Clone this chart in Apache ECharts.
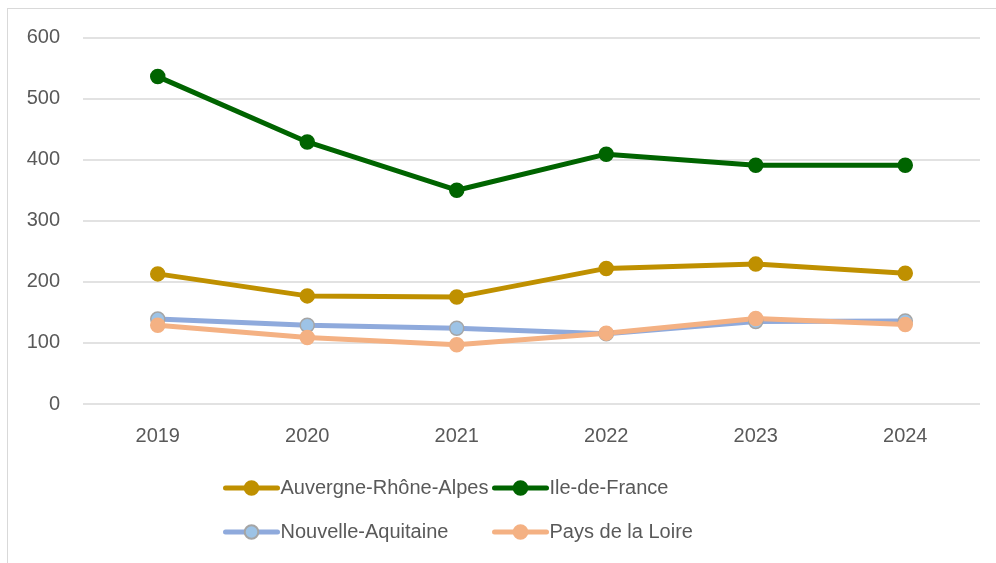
<!DOCTYPE html>
<html>
<head>
    <meta charset="utf-8">
    <title>Regions 2019-2024</title>
    <script type="text/javascript" src="https://cdn.jsdelivr.net/npm/echarts@6/dist/echarts.min.js"></script>
    <style>
        html, body { margin:0; padding:0; background:#fff; }
        #frame { position:absolute; left:7px; top:8px; width:1000px; height:600px; border:1px solid #d9d9d9; box-sizing:border-box; }
        #main { position:absolute; left:0; top:0; width:996px; height:563px; }
    </style>
</head>
<body>
    <div id="frame"></div>
    <div id="main"></div>
    <script type="text/javascript">
        var years = ['2019', '2020', '2021', '2022', '2023', '2024'];
        var auvergne = [213, 177, 175, 222, 229, 214];
        var ileDeFrance = [536, 429, 350, 409, 391, 391];
        var nouvelleAquitaine = [139, 129, 124, 115, 135, 136];
        var paysDeLaLoire = [129, 109, 97, 116, 140, 130];

        var font = 'Liberation Sans';
        var textColor = '#595959';

        var myChart = echarts.init(document.getElementById('main'));

        function serie(name, data, color, markerFill, markerBorder) {
            return {
                name: name,
                type: 'line',
                data: data,
                symbol: 'circle',
                symbolSize: 14,
                lineStyle: { color: color, width: 5 },
                itemStyle: { color: markerFill, borderColor: markerBorder, borderWidth: 1.5 },
                emphasis: { disabled: true }
            };
        }

        function legendAt(name, left, top) {
            return {
                data: [name],
                left: left,
                top: top,
                itemWidth: 52,
                itemHeight: 17,
                itemGap: 0,
                padding: 0,
                lineStyle: { width: 5, cap: 'round' },
                textStyle: { color: textColor, fontFamily: font, fontSize: 20, padding: [0, 0, 0, -2] }
            };
        }

        var option = {
            animation: false,
            grid: { left: 83, right: 16, top: 37.5, bottom: 159 },
            legend: [
                legendAt('Auvergne-Rhône-Alpes', 223, 478),
                legendAt('Ile-de-France', 492, 478),
                legendAt('Nouvelle-Aquitaine', 223, 522),
                legendAt('Pays de la Loire', 492, 522)
            ],
            xAxis: {
                type: 'category',
                data: years,
                boundaryGap: true,
                axisLine: { show: false },
                axisTick: { show: false },
                axisLabel: { color: textColor, fontFamily: font, fontSize: 20, margin: 22 }
            },
            yAxis: {
                type: 'value',
                min: 0,
                max: 600,
                interval: 100,
                axisLine: { show: false },
                axisTick: { show: false },
                axisLabel: { color: textColor, fontFamily: font, fontSize: 20, margin: 23 },
                splitLine: { lineStyle: { color: '#d9d9d9', width: 1.5 } }
            },
            series: [
                serie('Auvergne-Rhône-Alpes', auvergne, '#bf9000', '#bf9000', '#bf9000'),
                serie('Ile-de-France', ileDeFrance, '#006400', '#006400', '#006400'),
                serie('Nouvelle-Aquitaine', nouvelleAquitaine, '#8faadc', '#9dc3e6', '#a5a5a5'),
                serie('Pays de la Loire', paysDeLaLoire, '#f4b183', '#f4b183', '#f4b183')
            ]
        };

        myChart.setOption(option);
    </script>
</body>
</html>
